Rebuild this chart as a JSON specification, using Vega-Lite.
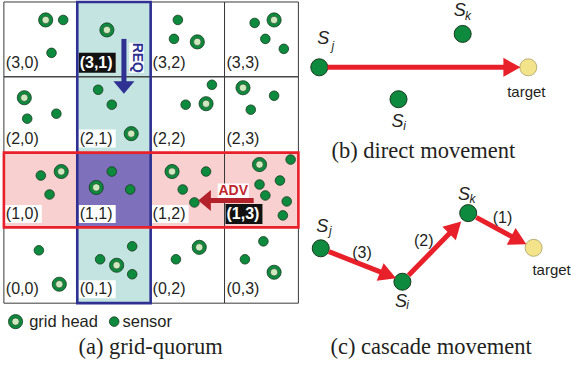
{
  "$schema": "https://vega.github.io/schema/vega-lite/v6.json",
  "width": 571,
  "height": 367,
  "autosize": {"type": "fit", "contains": "padding"},
  "padding": 0,
  "background": "white",
  "config": {"view": {"stroke": null}, "text": {"font": "Liberation Sans", "color": "#231f20"}},
  "datasets": {
    "regions": [
      {"kind": "col", "x": 79.5, "x2": 155, "y": 1, "y2": 303},
      {"kind": "row", "x": 4, "x2": 307, "y": 152, "y2": 227},
      {"kind": "both", "x": 79.5, "x2": 155, "y": 152, "y2": 227}
    ],
    "cells": [
      {"lab": "(3,0)", "hl": false, "x": 4, "x2": 79.5, "y": 1, "y2": 76, "lx": 6, "ly": 62},
      {"lab": "(3,1)", "hl": true, "x": 79.5, "x2": 155, "y": 1, "y2": 76, "lx": 82, "ly": 62},
      {"lab": "(3,2)", "hl": false, "x": 155, "x2": 231, "y": 1, "y2": 76, "lx": 157, "ly": 62},
      {"lab": "(3,3)", "hl": false, "x": 231, "x2": 307, "y": 1, "y2": 76, "lx": 233, "ly": 62},
      {"lab": "(2,0)", "hl": false, "x": 4, "x2": 79.5, "y": 76, "y2": 152, "lx": 6, "ly": 138},
      {"lab": "(2,1)", "hl": false, "x": 79.5, "x2": 155, "y": 76, "y2": 152, "lx": 82, "ly": 138},
      {"lab": "(2,2)", "hl": false, "x": 155, "x2": 231, "y": 76, "y2": 152, "lx": 157, "ly": 138},
      {"lab": "(2,3)", "hl": false, "x": 231, "x2": 307, "y": 76, "y2": 152, "lx": 233, "ly": 138},
      {"lab": "(1,0)", "hl": false, "x": 4, "x2": 79.5, "y": 152, "y2": 227, "lx": 6, "ly": 213.5},
      {"lab": "(1,1)", "hl": false, "x": 79.5, "x2": 155, "y": 152, "y2": 227, "lx": 82, "ly": 213.5},
      {"lab": "(1,2)", "hl": false, "x": 155, "x2": 231, "y": 152, "y2": 227, "lx": 157, "ly": 213.5},
      {"lab": "(1,3)", "hl": true, "x": 231, "x2": 307, "y": 152, "y2": 227, "lx": 233, "ly": 213.5},
      {"lab": "(0,0)", "hl": false, "x": 4, "x2": 79.5, "y": 227, "y2": 303, "lx": 6, "ly": 289},
      {"lab": "(0,1)", "hl": false, "x": 79.5, "x2": 155, "y": 227, "y2": 303, "lx": 82, "ly": 289},
      {"lab": "(0,2)", "hl": false, "x": 155, "x2": 231, "y": 227, "y2": 303, "lx": 157, "ly": 289},
      {"lab": "(0,3)", "hl": false, "x": 231, "x2": 307, "y": 227, "y2": 303, "lx": 233, "ly": 289}
    ],
    "nodes": [
      {"type": "head", "x": 47, "y": 19}, {"type": "head", "x": 110, "y": 29}, {"type": "head", "x": 203, "y": 41}, {"type": "head", "x": 282, "y": 19},
      {"type": "head", "x": 25, "y": 97}, {"type": "head", "x": 135, "y": 133}, {"type": "head", "x": 212, "y": 103}, {"type": "head", "x": 250, "y": 87},
      {"type": "head", "x": 63, "y": 171}, {"type": "head", "x": 99, "y": 187}, {"type": "head", "x": 177, "y": 171}, {"type": "head", "x": 267, "y": 164},
      {"type": "head", "x": 61, "y": 284}, {"type": "head", "x": 120, "y": 265}, {"type": "head", "x": 205, "y": 247}, {"type": "head", "x": 282, "y": 272},
      {"type": "head", "x": 16, "y": 321.5},
      {"type": "sensor", "x": 65, "y": 19}, {"type": "sensor", "x": 53, "y": 52}, {"type": "sensor", "x": 183, "y": 19}, {"type": "sensor", "x": 179, "y": 38},
      {"type": "sensor", "x": 262, "y": 22}, {"type": "sensor", "x": 273, "y": 38}, {"type": "sensor", "x": 292, "y": 48}, {"type": "sensor", "x": 28, "y": 118},
      {"type": "sensor", "x": 58, "y": 113}, {"type": "sensor", "x": 101, "y": 89}, {"type": "sensor", "x": 115, "y": 104}, {"type": "sensor", "x": 218, "y": 84},
      {"type": "sensor", "x": 191, "y": 104}, {"type": "sensor", "x": 282, "y": 95}, {"type": "sensor", "x": 258, "y": 109}, {"type": "sensor", "x": 42, "y": 175},
      {"type": "sensor", "x": 51, "y": 194}, {"type": "sensor", "x": 115, "y": 171}, {"type": "sensor", "x": 134, "y": 189}, {"type": "sensor", "x": 212, "y": 171},
      {"type": "sensor", "x": 188, "y": 189}, {"type": "sensor", "x": 200, "y": 202}, {"type": "sensor", "x": 299, "y": 159}, {"type": "sensor", "x": 288, "y": 180},
      {"type": "sensor", "x": 267, "y": 184}, {"type": "sensor", "x": 273, "y": 195}, {"type": "sensor", "x": 295, "y": 201}, {"type": "sensor", "x": 291, "y": 215},
      {"type": "sensor", "x": 40, "y": 250}, {"type": "sensor", "x": 136, "y": 246}, {"type": "sensor", "x": 103, "y": 259}, {"type": "sensor", "x": 136, "y": 274},
      {"type": "sensor", "x": 181, "y": 259}, {"type": "sensor", "x": 271, "y": 241}, {"type": "sensor", "x": 252, "y": 259},
      {"type": "sensor", "x": 117.5, "y": 321.5}
    ],
    "tags": [
      {"kind": "req", "text": "REQ", "x": 133, "x2": 148, "y": 42, "y2": 72, "cx": 140.5, "cy": 57},
      {"kind": "adv", "text": "ADV", "x": 224, "x2": 256, "y": 183, "y2": 197.5, "cx": 240, "cy": 190.5}
    ],
    "arrows": [
      {"kind": "req", "x": 127.5, "y": 38, "x2": 127.5, "y2": 83, "tx": 127.5, "ty": 93, "ang": 90},
      {"kind": "adv", "x": 261, "y": 200, "x2": 214, "y2": 200, "tx": 204, "ty": 200, "ang": 180},
      {"kind": "move", "x": 337, "y": 66.5, "x2": 521.5, "y2": 66.5, "tx": 535.5, "ty": 66.5, "ang": 0},
      {"kind": "move", "x": 338.4, "y": 251.3, "x2": 394.5, "y2": 272.9, "tx": 407.5, "ty": 278, "ang": 21.4},
      {"kind": "move", "x": 420.4, "y": 275.1, "x2": 464.6, "y2": 230.9, "tx": 474.5, "ty": 221, "ang": -45},
      {"kind": "move", "x": 490, "y": 217, "x2": 529.1, "y2": 237.5, "tx": 541.5, "ty": 244, "ang": 27.6}
    ],
    "panel": [
      {"kind": "node", "x": 328.5, "y": 66.5}, {"kind": "node", "x": 476, "y": 33}, {"kind": "node", "x": 410, "y": 98.5},
      {"kind": "target", "x": 543.5, "y": 66.5},
      {"kind": "node", "x": 330, "y": 248}, {"kind": "node", "x": 414, "y": 281.5}, {"kind": "node", "x": 481.7, "y": 212.7},
      {"kind": "target", "x": 549, "y": 247.5}
    ],
    "slabels": [
      {"x": 332.5, "y": 38.5, "sub": "j", "sx": 341, "sy": 45},
      {"x": 473, "y": 10.5, "sub": "k", "sx": 478.5, "sy": 15},
      {"x": 409, "y": 121.5, "sub": "i", "sx": 415, "sy": 125.5},
      {"x": 331.5, "y": 226.5, "sub": "j", "sx": 338.5, "sy": 231},
      {"x": 477.5, "y": 195, "sub": "k", "sx": 483, "sy": 198.5},
      {"x": 412.5, "y": 301.5, "sub": "i", "sx": 418, "sy": 305}
    ],
    "notes": [
      {"grp": "target", "text": "target", "x": 541.5, "y": 91},
      {"grp": "target", "text": "target", "x": 567.5, "y": 270},
      {"grp": "step", "text": "(3)", "x": 372.5, "y": 252.5},
      {"grp": "step", "text": "(2)", "x": 436, "y": 240.5},
      {"grp": "step", "text": "(1)", "x": 517, "y": 217.5},
      {"grp": "legend", "text": "grid head", "x": 30, "y": 321.5},
      {"grp": "legend", "text": "sensor", "x": 126, "y": 321.5},
      {"grp": "caption", "text": "(a) grid-quorum", "x": 155, "y": 347},
      {"grp": "caption", "text": "(b) direct movement", "x": 435.5, "y": 150},
      {"grp": "caption", "text": "(c) cascade movement", "x": 443.5, "y": 347}
    ]
  },
  "layer": [
    {
      "data": {"name": "regions"},
      "mark": {"type": "rect"},
      "encoding": {
        "x": {"field": "x", "type": "quantitative", "scale": {"domain": [0, 571], "nice": false, "zero": false}, "axis": null},
        "x2": {"field": "x2"},
        "y": {"field": "y", "type": "quantitative", "scale": {"domain": [0, 367], "nice": false, "zero": false, "reverse": true}, "axis": null},
        "y2": {"field": "y2"},
        "color": {"field": "kind", "type": "nominal", "scale": {"domain": ["col", "row", "both"], "range": ["#c4e4e1", "#f8d0d0", "#7e70ba"]}, "legend": null}
      }
    },
    {
      "data": {"name": "cells"},
      "mark": {"type": "rect", "fill": "white", "xOffset": -1, "x2Offset": 36, "yOffset": -9, "y2Offset": 9},
      "encoding": {
        "x": {"field": "lx", "type": "quantitative", "axis": null},
        "x2": {"field": "lx"},
        "y": {"field": "ly", "type": "quantitative", "axis": null},
        "y2": {"field": "ly"}
      }
    },
    {
      "data": {"name": "cells"},
      "transform": [{"filter": "datum.hl"}],
      "mark": {"type": "rect", "fill": "#111111", "xOffset": -1, "x2Offset": 36, "yOffset": -10, "y2Offset": 10},
      "encoding": {
        "x": {"field": "lx", "type": "quantitative", "axis": null},
        "x2": {"field": "lx"},
        "y": {"field": "ly", "type": "quantitative", "axis": null},
        "y2": {"field": "ly"}
      }
    },
    {
      "data": {"name": "cells"},
      "mark": {"type": "rect", "fillOpacity": 0, "stroke": "#3a3a3a", "strokeWidth": 1},
      "encoding": {
        "x": {"field": "x", "type": "quantitative", "axis": null},
        "x2": {"field": "x2"},
        "y": {"field": "y", "type": "quantitative", "axis": null},
        "y2": {"field": "y2"}
      }
    },
    {
      "data": {"name": "regions"},
      "transform": [{"filter": "datum.kind == 'col'"}],
      "mark": {"type": "rect", "fillOpacity": 0, "stroke": "#2e3192", "strokeWidth": 2.6},
      "encoding": {
        "x": {"field": "x", "type": "quantitative", "axis": null},
        "x2": {"field": "x2"},
        "y": {"field": "y", "type": "quantitative", "axis": null},
        "y2": {"field": "y2"}
      }
    },
    {
      "data": {"name": "regions"},
      "transform": [{"filter": "datum.kind == 'row'"}],
      "mark": {"type": "rect", "fillOpacity": 0, "stroke": "#e8202a", "strokeWidth": 2.6},
      "encoding": {
        "x": {"field": "x", "type": "quantitative", "axis": null},
        "x2": {"field": "x2"},
        "y": {"field": "y", "type": "quantitative", "axis": null},
        "y2": {"field": "y2"}
      }
    },
    {
      "data": {"name": "cells"},
      "transform": [{"filter": "!datum.hl"}],
      "mark": {"type": "text", "align": "left", "baseline": "middle", "fontSize": 16, "font": "Liberation Sans", "color": "#231f20"},
      "encoding": {
        "x": {"field": "lx", "type": "quantitative", "axis": null},
        "y": {"field": "ly", "type": "quantitative", "axis": null},
        "text": {"field": "lab"}
      }
    },
    {
      "data": {"name": "cells"},
      "transform": [{"filter": "datum.hl"}],
      "mark": {"type": "text", "align": "left", "baseline": "middle", "fontSize": 16, "fontWeight": "bold", "font": "Liberation Sans", "color": "white"},
      "encoding": {
        "x": {"field": "lx", "type": "quantitative", "axis": null},
        "y": {"field": "ly", "type": "quantitative", "axis": null},
        "text": {"field": "lab"}
      }
    },
    {
      "data": {"name": "nodes"},
      "transform": [{"filter": "datum.type == 'sensor'"}],
      "mark": {"type": "point", "shape": "circle", "filled": true, "size": 92, "fill": "#0d8a3e", "stroke": "#183a1e", "strokeWidth": 0.8, "opacity": 1},
      "encoding": {
        "x": {"field": "x", "type": "quantitative", "axis": null},
        "y": {"field": "y", "type": "quantitative", "axis": null}
      }
    },
    {
      "data": {"name": "nodes"},
      "transform": [{"filter": "datum.type == 'head'"}],
      "mark": {"type": "point", "shape": "circle", "filled": true, "size": 200, "fill": "#0d8a3e", "stroke": "#183a1e", "strokeWidth": 0.8, "opacity": 1},
      "encoding": {
        "x": {"field": "x", "type": "quantitative", "axis": null},
        "y": {"field": "y", "type": "quantitative", "axis": null}
      }
    },
    {
      "data": {"name": "nodes"},
      "transform": [{"filter": "datum.type == 'head'"}],
      "mark": {"type": "point", "shape": "circle", "filled": true, "size": 56, "fill": "#cfe9bf", "stroke": "#23472a", "strokeWidth": 0.7, "opacity": 1},
      "encoding": {
        "x": {"field": "x", "type": "quantitative", "axis": null},
        "y": {"field": "y", "type": "quantitative", "axis": null}
      }
    },
    {
      "data": {"name": "panel"},
      "transform": [{"filter": "datum.kind == 'node'"}],
      "mark": {"type": "point", "shape": "circle", "filled": true, "size": 290, "fill": "#0d8a3e", "stroke": "#183a1e", "strokeWidth": 1, "opacity": 1},
      "encoding": {
        "x": {"field": "x", "type": "quantitative", "axis": null},
        "y": {"field": "y", "type": "quantitative", "axis": null}
      }
    },
    {
      "data": {"name": "panel"},
      "transform": [{"filter": "datum.kind == 'target'"}],
      "mark": {"type": "point", "shape": "circle", "filled": true, "size": 290, "fill": "#f3e38a", "stroke": "#a89f68", "strokeWidth": 0.8, "opacity": 1},
      "encoding": {
        "x": {"field": "x", "type": "quantitative", "axis": null},
        "y": {"field": "y", "type": "quantitative", "axis": null}
      }
    },
    {
      "data": {"name": "arrows"},
      "mark": {"type": "rule", "strokeWidth": 5},
      "encoding": {
        "x": {"field": "x", "type": "quantitative", "axis": null},
        "y": {"field": "y", "type": "quantitative", "axis": null},
        "x2": {"field": "x2"},
        "y2": {"field": "y2"},
        "color": {"field": "kind", "type": "nominal", "scale": {"domain": ["req", "adv", "move"], "range": ["#2e3192", "#b3222b", "#e8202a"]}, "legend": null}
      }
    },
    {
      "data": {"name": "arrows"},
      "transform": [{"filter": "datum.kind != 'move'"}],
      "mark": {"type": "point", "shape": "M-1.2,-1L0,0L-1.2,1Z", "filled": true, "size": 441, "opacity": 1},
      "encoding": {
        "x": {"field": "tx", "type": "quantitative", "axis": null},
        "y": {"field": "ty", "type": "quantitative", "axis": null},
        "angle": {"field": "ang", "type": "quantitative", "scale": null},
        "color": {"field": "kind", "type": "nominal", "scale": {"domain": ["req", "adv", "move"], "range": ["#2e3192", "#b3222b", "#e8202a"]}, "legend": null}
      }
    },
    {
      "data": {"name": "arrows"},
      "transform": [{"filter": "datum.kind == 'move'"}],
      "mark": {"type": "point", "shape": "M-1.8,-1L0,0L-1.8,1Z", "filled": true, "size": 361, "opacity": 1, "color": "#e8202a"},
      "encoding": {
        "x": {"field": "tx", "type": "quantitative", "axis": null},
        "y": {"field": "ty", "type": "quantitative", "axis": null},
        "angle": {"field": "ang", "type": "quantitative", "scale": null}
      }
    },
    {
      "data": {"name": "tags"},
      "mark": {"type": "rect", "fill": "white"},
      "encoding": {
        "x": {"field": "x", "type": "quantitative", "axis": null},
        "x2": {"field": "x2"},
        "y": {"field": "y", "type": "quantitative", "axis": null},
        "y2": {"field": "y2"}
      }
    },
    {
      "data": {"name": "tags"},
      "transform": [{"filter": "datum.kind == 'req'"}],
      "mark": {"type": "text", "align": "center", "baseline": "middle", "angle": 90, "fontSize": 14, "fontWeight": "bold", "font": "Liberation Sans", "color": "#2e3192"},
      "encoding": {
        "x": {"field": "cx", "type": "quantitative", "axis": null},
        "y": {"field": "cy", "type": "quantitative", "axis": null},
        "text": {"field": "text"}
      }
    },
    {
      "data": {"name": "tags"},
      "transform": [{"filter": "datum.kind == 'adv'"}],
      "mark": {"type": "text", "align": "center", "baseline": "middle", "fontSize": 14, "fontWeight": "bold", "font": "Liberation Sans", "color": "#c1272d"},
      "encoding": {
        "x": {"field": "cx", "type": "quantitative", "axis": null},
        "y": {"field": "cy", "type": "quantitative", "axis": null},
        "text": {"field": "text"}
      }
    },
    {
      "data": {"name": "slabels"},
      "mark": {"type": "text", "text": "S", "align": "center", "baseline": "middle", "fontSize": 18, "fontStyle": "italic", "font": "Liberation Sans", "color": "#231f20"},
      "encoding": {
        "x": {"field": "x", "type": "quantitative", "axis": null},
        "y": {"field": "y", "type": "quantitative", "axis": null}
      }
    },
    {
      "data": {"name": "slabels"},
      "mark": {"type": "text", "align": "left", "baseline": "middle", "fontSize": 12, "fontStyle": "italic", "font": "Liberation Sans", "color": "#231f20"},
      "encoding": {
        "x": {"field": "sx", "type": "quantitative", "axis": null},
        "y": {"field": "sy", "type": "quantitative", "axis": null},
        "text": {"field": "sub"}
      }
    },
    {
      "data": {"name": "notes"},
      "transform": [{"filter": "datum.grp == 'target'"}],
      "mark": {"type": "text", "align": "center", "baseline": "middle", "fontSize": 15, "font": "Liberation Sans", "color": "#231f20"},
      "encoding": {
        "x": {"field": "x", "type": "quantitative", "axis": null},
        "y": {"field": "y", "type": "quantitative", "axis": null},
        "text": {"field": "text"}
      }
    },
    {
      "data": {"name": "notes"},
      "transform": [{"filter": "datum.grp == 'step'"}],
      "mark": {"type": "text", "align": "center", "baseline": "middle", "fontSize": 16, "font": "Liberation Sans", "color": "#231f20"},
      "encoding": {
        "x": {"field": "x", "type": "quantitative", "axis": null},
        "y": {"field": "y", "type": "quantitative", "axis": null},
        "text": {"field": "text"}
      }
    },
    {
      "data": {"name": "notes"},
      "transform": [{"filter": "datum.grp == 'legend'"}],
      "mark": {"type": "text", "align": "left", "baseline": "middle", "fontSize": 16.5, "font": "Liberation Sans", "color": "#231f20"},
      "encoding": {
        "x": {"field": "x", "type": "quantitative", "axis": null},
        "y": {"field": "y", "type": "quantitative", "axis": null},
        "text": {"field": "text"}
      }
    },
    {
      "data": {"name": "notes"},
      "transform": [{"filter": "datum.grp == 'caption'"}],
      "mark": {"type": "text", "align": "center", "baseline": "middle", "fontSize": 22.5, "font": "Liberation Serif", "color": "#231f20"},
      "encoding": {
        "x": {"field": "x", "type": "quantitative", "axis": null},
        "y": {"field": "y", "type": "quantitative", "axis": null},
        "text": {"field": "text"}
      }
    }
  ],
  "resolve": {"scale": {"color": "independent"}}
}
